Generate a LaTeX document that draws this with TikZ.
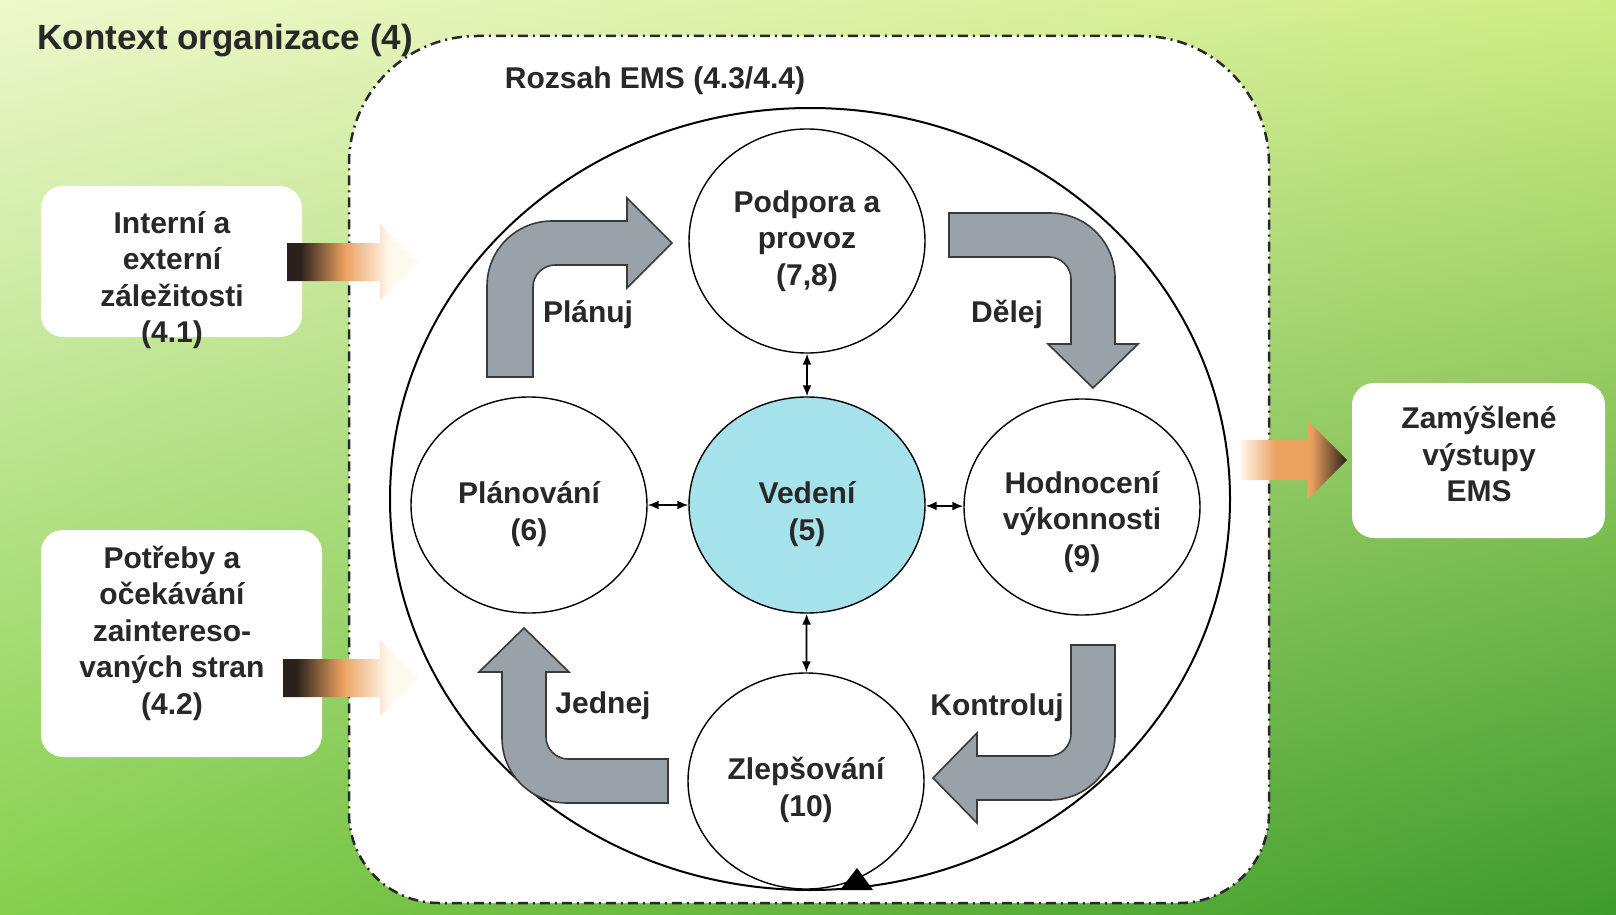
\documentclass[tikz,border=0pt]{standalone}
\usepackage{fontspec}
\setmainfont{Liberation Sans}
\usetikzlibrary{shapes.geometric, arrows.meta, positioning, shadings}
\usepackage{xcolor}
\definecolor{EMSText}{HTML}{282828}
\definecolor{EMSCyan}{HTML}{A6E2EC}
\definecolor{EMSGrey}{HTML}{98A2A8}
\definecolor{EMSEdge}{HTML}{3A3A3A}
\definecolor{EMSDark}{HTML}{2B211C}
\definecolor{EMSOrange}{HTML}{EBA15F}
\definecolor{EMSPale}{HTML}{FFF8EC}
\definecolor{EMSBgTL}{HTML}{EEF8CC}
\definecolor{EMSBgTR}{HTML}{CFEC84}
\definecolor{EMSBgBL}{HTML}{86D04E}
\definecolor{EMSBgBR}{HTML}{3E9A2C}
\pgfdeclarehorizontalshading{inflow}{100bp}{color(0bp)=(EMSDark); color(25bp)=(EMSDark); color(30bp)=(EMSDark); color(47bp)=(EMSOrange); color(64bp)=(EMSPale); color(75bp)=(EMSPale); color(100bp)=(EMSPale)}
\pgfdeclarehorizontalshading{outflow}{100bp}{color(0bp)=(EMSPale); color(25bp)=(EMSPale); color(42bp)=(EMSOrange); color(58bp)=(EMSOrange); color(75bp)=(EMSDark); color(100bp)=(EMSDark)}
\tikzset{
    % Frames and panels
    scopeframe/.style={
        draw=EMSText,
        fill=white,
        line width=2.5pt,
        dash pattern=on 10pt off 5pt on 2pt off 5pt
    },
    panel/.style={
        fill=white,
        rounded corners=22pt
    },
    % Text styles
    title/.style={
        text=EMSText,
        font=\fontsize{35}{40}\selectfont\bfseries
    },
    heading/.style={
        text=EMSText,
        font=\fontsize{30}{36}\selectfont\bfseries
    },
    boxtext/.style={
        align=center,
        text=EMSText,
        inner sep=0pt,
        font=\fontsize{30}{36.5}\selectfont\bfseries
    },
    cyclelabel/.style={
        text=EMSText,
        inner sep=0pt,
        font=\fontsize{30}{36}\selectfont\bfseries
    },
    % Phase circles
    phase/.style={
        ellipse,
        draw=black,
        fill=white,
        line width=1.4pt,
        minimum width=236pt,
        minimum height=216pt,
        inner sep=0pt,
        align=center,
        text=EMSText,
        font=\fontsize{30}{36.5}\selectfont\bfseries
    },
    % Connectors
    loop/.style={
        draw=black,
        line width=2pt
    },
    link/.style={
        {Latex[length=11pt,width=9pt]}-{Latex[length=11pt,width=9pt]},
        line width=1.8pt,
        draw=black
    },
    bentarrow/.style={
        fill=EMSGrey,
        draw=EMSEdge,
        line width=1.6pt,
        line join=miter
    }
}
\begin{document}
\begin{tikzpicture}[x=1pt, y=-1pt]
    % Background
    \useasboundingbox (0,0) rectangle (1616,915);
    \shade[upper left=EMSBgTL, upper right=EMSBgTR, lower left=EMSBgBL, lower right=EMSBgBR] (0,0) rectangle (1616,915);

    % Context of the organisation
    \draw[scopeframe] (349,164) .. controls (349,93) and (406,36) .. (477,36) -- (1141,36) .. controls (1212,36) and (1269,93) .. (1269,164) -- (1269,813) .. controls (1269,863) and (1229,903) .. (1179,903) -- (439,903) .. controls (389,903) and (349,863) .. (349,813) -- cycle;
    \node[title, anchor=base west] (kontext) at (34,50) {Kontext organizace (4)};
    \node[heading, anchor=base] (rozsah) at (655,89) {Rozsah EMS (4.3/4.4)};

    % Loop round the phases
    \draw[loop] (810,499) ellipse [x radius=420, y radius=391];

    % Phases
    \node[phase, minimum height=224pt] (podpora) at (807,241) {Podpora a\\provoz\\(7,8)};
    \node[phase] (planovani) at (529,505) {\rule{0pt}{40pt}Plánování\\(6)};
    \node[phase, fill=EMSCyan] (vedeni) at (807,505) {\rule{0pt}{40pt}Vedení\\(5)};
    \node[phase] (hodnoceni) at (1082,507) {\rule{0pt}{52pt}Hodnocení\\výkonnosti\\(9)};
    \node[phase] (zlepsovani) at (806,781) {\rule{0pt}{40pt}Zlepšování\\(10)};
    \fill[black] (840,890) -- (873,890) -- (857,868) -- cycle;

    % Links to leadership
    \draw[link] (podpora) -- (vedeni);
    \draw[link] (planovani) -- (vedeni);
    \draw[link] (vedeni) -- (hodnoceni);
    \draw[link] (vedeni) -- (zlepsovani);

    % PDCA arrows
    \draw[bentarrow] (487,377) -- (487,286) .. controls (487,250) and (516,221) .. (552,221) -- (627,221) -- (627,198) -- (672,243) -- (627,288) -- (627,265) -- (555,265) .. controls (543,265) and (533,275) .. (533,287) -- (533,377) -- cycle;
    \draw[bentarrow] (949,213) -- (1050,213) .. controls (1086,213) and (1115,242) .. (1115,278) -- (1115,344) -- (1138,344) -- (1093,388) -- (1048,344) -- (1071,344) -- (1071,279) .. controls (1071,267) and (1061,257) .. (1049,257) -- (949,257) -- cycle;
    \draw[bentarrow] (1071,645) -- (1115,645) -- (1115,735) .. controls (1115,771) and (1086,800) .. (1050,800) -- (977,800) -- (977,823) -- (933,778) -- (977,733) -- (977,756) -- (1049,756) .. controls (1061,756) and (1071,746) .. (1071,734) -- cycle;
    \draw[bentarrow] (668,759) -- (668,803) -- (567,803) .. controls (531,803) and (502,774) .. (502,738) -- (502,672) -- (479,672) -- (524,628) -- (569,672) -- (546,672) -- (546,737) .. controls (546,749) and (556,759) .. (568,759) -- cycle;
    \node[cyclelabel, anchor=base] (planuj) at (588,322) {Plánuj};
    \node[cyclelabel, anchor=base] (delej) at (1007,322) {Dělej};
    \node[cyclelabel, anchor=base] (kontroluj) at (997,715) {Kontroluj};
    \node[cyclelabel, anchor=base] (jednej) at (603,713) {Jednej};

    % Inputs
    \fill[panel] (41,186) rectangle (302,337);
    \node[boxtext] (zalezitosti) at (172,280) {Interní a\\externí\\záležitosti\\(4.1)};
    \fill[panel] (41,530) rectangle (322,757);
    \node[boxtext] (potreby) at (172,633) {Potřeby a\\očekávání\\zaintereso-\\vaných stran\\(4.2)};
    \shade[shading=inflow] (287,243) -- (380,243) -- (380,224) -- (418,262) -- (380,300) -- (380,281) -- (287,281) -- cycle;
    \shade[shading=inflow] (283,659) -- (380,659) -- (380,640) -- (418,678) -- (380,716) -- (380,697) -- (283,697) -- cycle;

    % Output
    \fill[panel] (1352,383) rectangle (1605,538);
    \node[boxtext] (vystupy) at (1479,454) {Zamýšlené\\výstupy\\EMS};
    \shade[shading=outflow] (1240,440) -- (1307,440) -- (1307,420) -- (1347,460) -- (1307,500) -- (1307,480) -- (1240,480) -- cycle;
\end{tikzpicture}
\end{document}
